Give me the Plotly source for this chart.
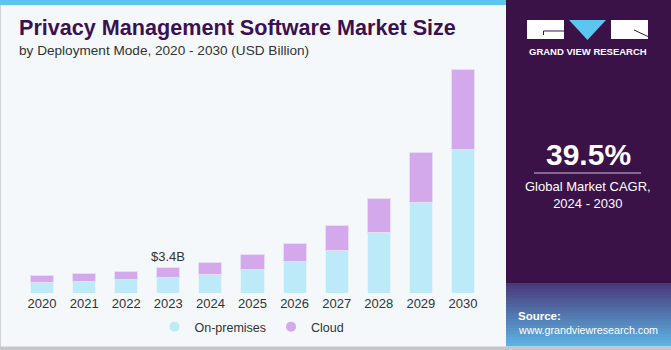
import plotly.graph_objects as go

# ---- data (USD Billion) ----
years = ["2020", "2021", "2022", "2023", "2024", "2025", "2026", "2027", "2028", "2029", "2030"]
on_premises = [1.42, 1.61, 1.79, 2.10, 2.55, 3.17, 4.21, 5.69, 8.10, 12.10, 19.30]
cloud = [0.94, 0.98, 1.12, 1.30, 1.52, 1.94, 2.51, 3.32, 4.61, 6.85, 10.80]
highlight_year = "2023"
highlight_label = "$3.4B"
cagr_value = "39.5%"
cagr_text = "Global Market CAGR,<br>2024 - 2030"

W, H = 671, 350
L, R, T, B = 21, 187, 60, 57
pw, ph = W - L - R, H - T - B
PX_PER_B = 7.44


def px(x):
    return (x - L) / pw


def py(y):
    return (H - B - y) / ph


FONT = "Liberation Sans"
C_ONP = "#bdeaf9"
C_CLOUD = "#d4a9ec"
PURPLE = "#3a1248"
TITLE_C = "#3b1150"

fig = go.Figure()
fig.add_trace(go.Bar(x=years, y=on_premises, name="On-premises", showlegend=False,
                     marker=dict(color=C_ONP, line=dict(color="#e6f4fb", width=1))))
fig.add_trace(go.Bar(x=years, y=cloud, name="Cloud", showlegend=False,
                     marker=dict(color=C_CLOUD, line=dict(color="#e9dcf5", width=1))))
# legend entries with circle symbols
fig.add_trace(go.Scatter(x=[None], y=[None], mode="markers", name="On-premises",
                         marker=dict(symbol="circle", size=10, color=C_ONP)))
fig.add_trace(go.Scatter(x=[None], y=[None], mode="markers", name="Cloud",
                         marker=dict(symbol="circle", size=10, color=C_CLOUD)))

shapes = []
shapes.append(dict(type="rect", xref="paper", yref="paper", x0=px(0), x1=px(507), y0=py(5), y1=py(0),
                   fillcolor="#5bc6ef", line=dict(width=0), layer="below"))
shapes.append(dict(type="rect", xref="paper", yref="paper", x0=px(0), x1=px(1), y0=py(350), y1=py(5),
                   fillcolor="#d0d4d8", line=dict(width=0), layer="below"))
shapes.append(dict(type="rect", xref="paper", yref="paper", x0=px(506), x1=px(671), y0=py(283), y1=py(0),
                   fillcolor=PURPLE, line=dict(width=0), layer="below"))
c0 = (72, 58, 122)
c1 = (92, 178, 228)
n = 21
y_start, y_end = 283, 346
for i in range(n):
    t = i / (n - 1)
    col = tuple(int(c0[k] + (c1[k] - c0[k]) * t) for k in range(3))
    ya = y_start + (y_end - y_start) * i / n
    yb = y_start + (y_end - y_start) * (i + 1) / n
    shapes.append(dict(type="rect", xref="paper", yref="paper", x0=px(506), x1=px(671), y0=py(yb + 0.5), y1=py(ya),
                       fillcolor="rgb(%d,%d,%d)" % col, line=dict(width=0), layer="below"))
shapes.append(dict(type="rect", xref="paper", yref="paper", x0=px(0), x1=px(671), y0=py(350), y1=py(346.5),
                   fillcolor="#c4c6c8", line=dict(width=0), layer="below"))
# logo
shapes.append(dict(type="rect", xref="paper", yref="paper", x0=px(527), x1=px(564), y0=py(39), y1=py(20),
                   fillcolor="white", line=dict(width=0)))
shapes.append(dict(type="path", xref="paper", yref="paper",
                   path="M %f %f L %f %f L %f %f Z" % (px(569), py(20), px(606), py(20), px(587.5), py(40)),
                   fillcolor="#5bc6ef", line=dict(width=0)))
shapes.append(dict(type="rect", xref="paper", yref="paper", x0=px(611), x1=px(648), y0=py(39), y1=py(20),
                   fillcolor="white", line=dict(width=0)))
shapes.append(dict(type="path", xref="paper", yref="paper",
                   path="M %f %f L %f %f L %f %f" % (px(564), py(31), px(543.5), py(31), px(543.5), py(35)),
                   line=dict(color=PURPLE, width=1)))
shapes.append(dict(type="line", xref="paper", yref="paper", x0=px(634), y0=py(30), x1=px(648), y1=py(36.5),
                   line=dict(color=PURPLE, width=1)))
shapes.append(dict(type="line", xref="paper", yref="paper", x0=px(534), y0=py(173), x1=px(641), y1=py(173),
                   line=dict(color="#cdbfd8", width=1)))

annotations = []


def ann(text, x, y, size, color, xanchor="left", bold=False, family=FONT):
    if bold:
        text = "<b>%s</b>" % text
    annotations.append(dict(text=text, xref="paper", yref="paper", x=px(x), y=py(y), xanchor=xanchor,
                            yanchor="middle", showarrow=False, font=dict(family=family, size=size, color=color)))


ann("Privacy Management Software Market Size", 17, 28, 21.6, TITLE_C, bold=True)
ann("by Deployment Mode, 2020 - 2030 (USD Billion)", 17, 50, 13.6, "#333333")
ann("GRAND VIEW RESEARCH", 587.5, 52, 9.5, "white", xanchor="center", bold=True)
ann(cagr_value, 588, 154, 30, "white", xanchor="center", bold=True)
annotations.append(dict(text=cagr_text, xref="paper", yref="paper", x=px(588), y=py(195), xanchor="center",
                        yanchor="middle", showarrow=False, align="center",
                        font=dict(family=FONT, size=13, color="white")))
ann("Source:", 516, 316, 11.5, "white", bold=True)
ann("www.grandviewresearch.com", 516, 330, 10.7, "white")

hi = years.index(highlight_year)
annotations.append(dict(text=highlight_label, xref="x", yref="y", x=hi,
                        y=on_premises[hi] + cloud[hi], yanchor="bottom", yshift=2, showarrow=False,
                        font=dict(family=FONT, size=13, color="#333333")))

fig.update_layout(
    width=W, height=H,
    margin=dict(l=L, r=R, t=T, b=B, pad=0, autoexpand=False),
    paper_bgcolor="#f4f8fb", plot_bgcolor="rgba(0,0,0,0)",
    barmode="stack", bargap=0.45,
    showlegend=True,
    legend=dict(orientation="h", x=px(252), xanchor="center", y=py(327), yanchor="middle",
                font=dict(family=FONT, size=12.5, color="#333333"),
                bgcolor="rgba(0,0,0,0)", traceorder="normal"),
    xaxis=dict(type="category", range=[-0.5, len(years) - 0.5], showgrid=False, showline=False,
               ticks="", zeroline=False, ticklabelstandoff=1, automargin=False,
               tickfont=dict(family=FONT, size=13, color="#333333")),
    yaxis=dict(visible=False, range=[0, ph / PX_PER_B], automargin=False),
    shapes=shapes, annotations=annotations,
    font=dict(family=FONT),
)

fig.write_html("out.html")
